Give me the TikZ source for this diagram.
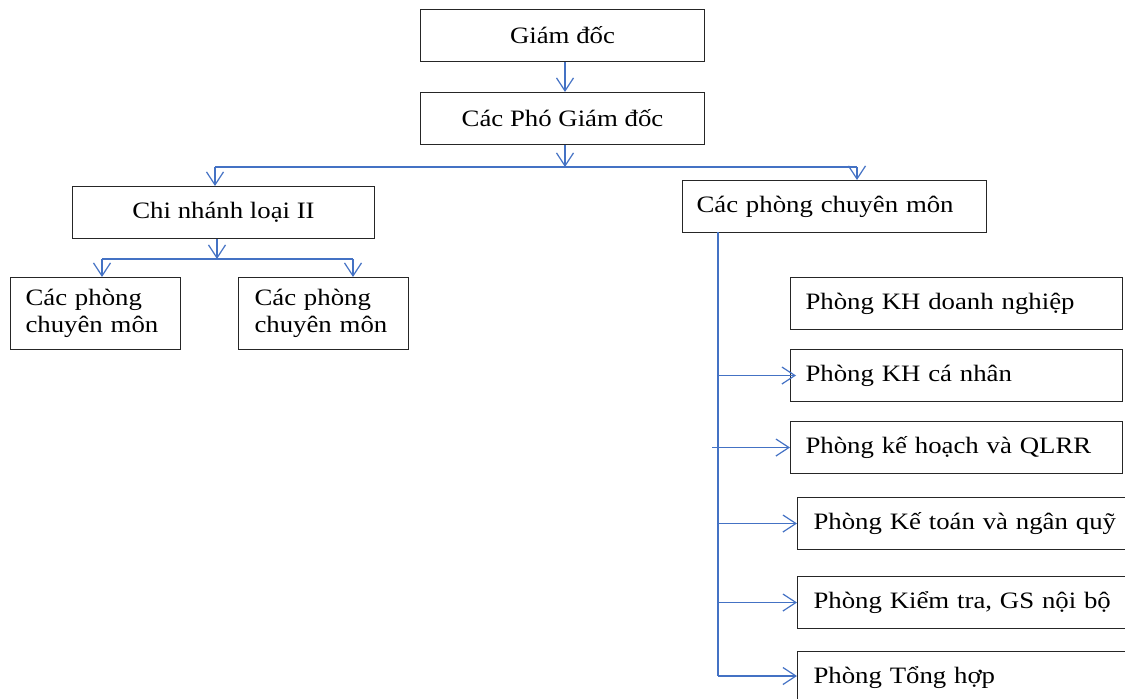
\documentclass[tikz,border=0pt]{standalone}
\usepackage{fontspec}
\setmainfont{Liberation Serif}[FakeStretch=1.14]
\usetikzlibrary{arrows.meta}

\definecolor{linkblue}{RGB}{68,114,196}
\newcommand\boxfont{\fontsize{23.5}{27}\selectfont}

\tikzset{
  box/.style={draw=black!85, line width=1pt, anchor=north west, inner sep=0pt,
    font=\boxfont, align=center},
  lbox/.style={box, inner xsep=15pt, align=left},
  line/.style={draw=linkblue, line width=1.2pt},
  link/.style={line, -{Straight Barb[length=13pt,width=17pt,line width=1.2pt]}}
}

\begin{document}
\begin{tikzpicture}[x=1pt, y=-1pt]

  \useasboundingbox (0,0) rectangle (1125,699);

  %% top of the chart
  \node[box, minimum width=284, minimum height=52] (gd) at (420,9) {Giám đốc};
  \node[box, minimum width=284, minimum height=52] (pgd) at (420,92) {Các Phó Giám đốc};

  \node[box, minimum width=302, minimum height=52] (cnl2) at (72,186) {Chi nhánh loại II};
  \node[lbox, inner xsep=14pt, text width=276, minimum height=52] (pcm) at (682,180) {Các phòng chuyên môn};

  %% branch offices
  \node[lbox, text width=140, minimum height=72] (cn1) at (10,277) {Các phòng\\chuyên môn};
  \node[lbox, inner xsep=16pt, text width=138, minimum height=72] (cn2) at (238,277) {Các phòng\\chuyên môn};

  %% departments
  \node[lbox, text width=302, minimum height=52] (p1) at (790,277) {Phòng KH doanh nghiệp};
  \node[lbox, text width=302, minimum height=52] (p2) at (790,349) {Phòng KH cá nhân};
  \node[lbox, text width=302, minimum height=52] (p3) at (790,421) {Phòng kế hoạch và QLRR};
  \node[lbox, inner xsep=16pt, text width=310, minimum height=52] (p4) at (797,497) {Phòng Kế toán và ngân quỹ};
  \node[lbox, inner xsep=16pt, text width=310, minimum height=52] (p5) at (797,576) {Phòng Kiểm tra, GS nội bộ};
  \node[lbox, inner xsep=16pt, text width=310, minimum height=52] (p6) at (797,651) {Phòng Tổng hợp};

  \coordinate (bus) at (565,167);
  \coordinate (busL) at (215,167);
  \coordinate (busR) at (857,167);
  \coordinate (bus2) at (217,259);
  \coordinate (bus2L) at (102,259);
  \coordinate (bus2R) at (353,259);
  \coordinate (vtop) at (718,232);
  \coordinate (vbot) at (718,676);

  \draw[link] (bus |- gd.south) -- (bus |- pgd.north); % GD -> PGD
  \draw[link] (bus |- pgd.south) -- (bus);
  \draw[line] (busL) -- (busR);
  \draw[link] (busL) -- (busL |- cnl2.north);
  \draw[link] (busR) -- (busR |- pcm.north);

  \draw[link] (cnl2.south -| bus2) -- (bus2);
  \draw[line] (bus2L) -- (bus2R);
  \draw[link] (bus2L) -- (bus2L |- cn1.north);
  \draw[link] (bus2R) -- (bus2R |- cn2.north);

  \draw[line] (vtop) -- (vbot);
  \draw[link] (vtop |- p2.west) -- ([xshift=6]p2.west);
  \draw[link] ([xshift=-6]vtop |- p3.west) -- (p3.west);
  \draw[link] (vtop |- p4.west) -- (p4.west);
  \draw[link] (vtop |- p5.west) -- (p5.west);
  \draw[link] (vbot) -- (vbot -| p6.west); % last one

\end{tikzpicture}
\end{document}
